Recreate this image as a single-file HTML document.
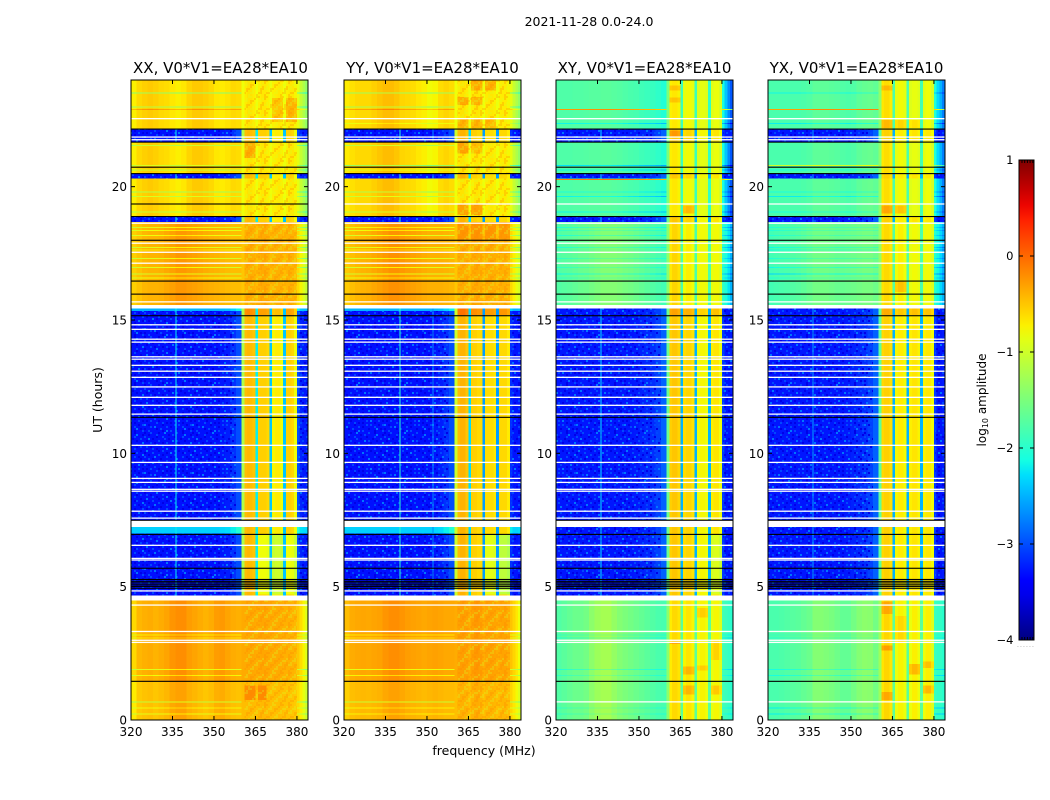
<!DOCTYPE html>
<html>
<head>
<meta charset="utf-8">
<title>2021-11-28 spectrogram</title>
<style>
html,body{margin:0;padding:0;background:#fff;}
svg{display:block;font-family:"DejaVu Sans","Liberation Sans",sans-serif;fill:#000;}
</style>
</head>
<body>
<svg id="chart" xmlns="http://www.w3.org/2000/svg" width="1050" height="800" viewBox="0 0 1050 800">
  <defs>
    <linearGradient id="jet-gradient" x1="0" y1="1" x2="0" y2="0"></linearGradient>
    <pattern id="speckle-pattern" patternUnits="userSpaceOnUse" x="0" y="0" width="48" height="48"></pattern>
    <pattern id="ripple-pattern" patternUnits="userSpaceOnUse" x="0" y="0" width="24" height="16"></pattern>
  </defs>
  <text x="589" y="26" font-size="12.5" text-anchor="middle">2021-11-28 0.0-24.0</text>
  <g id="panels"></g>
  <text x="220.5" y="73" font-size="15" text-anchor="middle">XX, V0*V1=EA28*EA10</text>
  <text x="432.5" y="73" font-size="15" text-anchor="middle">YY, V0*V1=EA28*EA10</text>
  <text x="644.5" y="73" font-size="15" text-anchor="middle">XY, V0*V1=EA28*EA10</text>
  <text x="856.5" y="73" font-size="15" text-anchor="middle">YX, V0*V1=EA28*EA10</text>
  <text x="484" y="755" font-size="12.5" text-anchor="middle">frequency (MHz)</text>
  <text x="0" y="0" font-size="12.5" text-anchor="middle" transform="translate(102 400) rotate(-90)">UT (hours)</text>
  <text x="0" y="0" font-size="12" text-anchor="middle" transform="translate(986 400) rotate(-90)">log<tspan font-size="8" dy="2">10</tspan><tspan dy="-2"> amplitude</tspan></text>
  <g id="colorbar">
    <rect x="1019" y="160" width="15" height="480" fill="url(#jet-gradient)"></rect>
  </g>
  <text x="1017" y="647" font-size="6" fill="#888" letter-spacing="1.1">......</text>
</svg>
<script>
// Axis domains and tick labels
const freqTicks = [320, 335, 350, 365, 380];
const hourTicks = [0, 5, 10, 15, 20];
const colorTicks = [1, 0, -1, -2, -3, -4];
// Frequency bin left edges (MHz)
const freqEdges = [320,322,324,326,328,330,332,334,336,338,340,342,344,346,348,350,352,354,356,358,360,361,362,363,364,365,366,367,368,369,370,371,372,373,374,375,376,377,378,379,380,381,382,383,384];

// log10 amplitude spectra, one value per frequency bin
const xxLow = [-.6,-.42,-.38,-.36,-.4,-.36,-.32,-.24,-.2,-.2,-.28,-.32,-.36,-.4,-.36,-.28,-.26,-.32,-.36,-.38,-.35,-.35,-.34,-.33,-.34,-.36,-.34,-.33,-.33,-.34,-.36,-.36,-.36,-.35,-.36,-.38,-.38,-.38,-.4,-.42,-.5,-.62,-.75,-.9];
const xxHigh = [-.72,-.6,-.55,-.52,-.55,-.6,-.62,-.68,-.72,-.68,-.58,-.52,-.52,-.55,-.6,-.68,-.7,-.66,-.6,-.62,-.8,-.7,-.65,-.65,-.7,-.8,-.72,-.68,-.68,-.72,-.8,-.72,-.7,-.68,-.72,-.8,-.72,-.68,-.68,-.75,-.85,-1.05,-1.2,-1.35];
const xxMid = [-.55,-.48,-.42,-.4,-.4,-.38,-.34,-.3,-.25,-.25,-.28,-.3,-.33,-.36,-.38,-.4,-.42,-.44,-.45,-.45,-.5,-.38,-.36,-.36,-.38,-.45,-.38,-.35,-.35,-.38,-.45,-.4,-.38,-.38,-.4,-.45,-.4,-.38,-.4,-.45,-.6,-.75,-.9,-1.05];
const xxOff = [-3.3,-3.3,-3.3,-3.3,-3.3,-3.3,-3.3,-3.3,-3.3,-3.3,-3.3,-3.3,-3.3,-3.3,-3.3,-3.3,-3.27,-3.24,-3.14,-3,-1.2,-.45,-.42,-.45,-.5,-2.2,-.55,-.55,-.55,-.6,-2.4,-.75,-.7,-.7,-.8,-2.4,-.55,-.55,-.6,-.8,-3,-3.2,-3.25,-3.25];
const yyLow = [-.45,-.36,-.34,-.33,-.34,-.32,-.3,-.24,-.2,-.2,-.24,-.28,-.3,-.32,-.34,-.32,-.3,-.32,-.34,-.34,-.36,-.3,-.28,-.28,-.3,-.36,-.3,-.26,-.26,-.3,-.36,-.32,-.3,-.3,-.32,-.36,-.34,-.32,-.32,-.36,-.48,-.58,-.68,-.8];
const yyHigh = [-.7,-.64,-.6,-.6,-.6,-.55,-.5,-.45,-.45,-.5,-.58,-.6,-.62,-.68,-.72,-.78,-.75,-.62,-.58,-.62,-.8,-.7,-.65,-.65,-.7,-.8,-.72,-.66,-.66,-.72,-.8,-.7,-.68,-.68,-.72,-.8,-.72,-.7,-.7,-.76,-.85,-1.05,-1.2,-1.35];
const yyMid = [-.52,-.46,-.42,-.4,-.38,-.34,-.3,-.26,-.22,-.22,-.25,-.28,-.3,-.33,-.36,-.38,-.38,-.38,-.4,-.42,-.5,-.38,-.36,-.36,-.38,-.45,-.38,-.35,-.35,-.38,-.45,-.38,-.36,-.36,-.38,-.45,-.4,-.38,-.38,-.42,-.6,-.72,-.85,-.95];
const yyOff = [-3.3,-3.3,-3.3,-3.3,-3.3,-3.3,-3.3,-3.3,-3.3,-3.3,-3.3,-3.3,-3.3,-3.3,-3.3,-3.3,-3.27,-3.24,-3.14,-3,-1,-.45,-.4,-.4,-.5,-2.3,-.55,-.55,-.6,-.6,-2.6,-.62,-.62,-.62,-.68,-2.6,-.6,-.6,-.6,-.7,-3.15,-3.28,-3.28,-3.25];
const xyLow = [-1.75,-1.7,-1.65,-1.6,-1.6,-1.55,-1.4,-1.3,-1.25,-1.25,-1.35,-1.45,-1.5,-1.55,-1.6,-1.65,-1.7,-1.75,-1.8,-1.82,-1.4,-.7,-.6,-.6,-.66,-1.7,-.75,-.66,-.66,-.75,-1.7,-.82,-.74,-.74,-.82,-1.7,-.85,-.76,-.76,-.9,-1.85,-1.9,-1.95,-2];
const xyHigh = [-1.77,-1.77,-1.77,-1.75,-1.75,-1.74,-1.72,-1.72,-1.7,-1.7,-1.72,-1.74,-1.77,-1.8,-1.82,-1.87,-1.9,-1.92,-1.97,-2.05,-1.5,-.72,-.68,-.68,-.74,-1.9,-.85,-.78,-.78,-.85,-1.9,-.92,-.85,-.85,-.92,-1.95,-.9,-.82,-.82,-.95,-2.1,-2.4,-2.7,-2.95];
const xyMid = [-1.75,-1.72,-1.7,-1.66,-1.62,-1.6,-1.55,-1.5,-1.45,-1.45,-1.45,-1.48,-1.52,-1.55,-1.6,-1.65,-1.7,-1.75,-1.8,-1.85,-1.4,-.68,-.58,-.58,-.65,-1.8,-.8,-.72,-.72,-.8,-1.8,-.85,-.78,-.78,-.85,-1.8,-.85,-.78,-.78,-.9,-1.95,-2.1,-2.25,-2.5];
const xyOff = [-3.27,-3.27,-3.27,-3.27,-3.27,-3.27,-3.27,-3.27,-3.27,-3.27,-3.27,-3.27,-3.27,-3.27,-3.25,-3.22,-3.19,-3.16,-3.06,-2.9,-1.6,-.55,-.5,-.5,-.58,-2.5,-.62,-.58,-.58,-.65,-2.5,-.8,-.76,-.76,-.82,-2.5,-.72,-.66,-.66,-.8,-3.1,-3.28,-3.28,-3.25];
const yxLow = [-1.8,-1.8,-1.78,-1.75,-1.72,-1.7,-1.65,-1.6,-1.45,-1.45,-1.48,-1.52,-1.58,-1.65,-1.65,-1.55,-1.45,-1.4,-1.42,-1.55,-1.3,-.66,-.58,-.58,-.66,-1.7,-.82,-.74,-.74,-.82,-1.7,-.82,-.72,-.72,-.82,-1.7,-.82,-.72,-.72,-.9,-1.9,-1.95,-1.95,-2];
const yxHigh = [-1.8,-1.8,-1.8,-1.8,-1.8,-1.8,-1.78,-1.75,-1.68,-1.68,-1.68,-1.7,-1.72,-1.76,-1.78,-1.76,-1.68,-1.64,-1.62,-1.66,-1.4,-.68,-.62,-.62,-.7,-1.8,-.85,-.78,-.78,-.85,-1.8,-.9,-.84,-.84,-.9,-1.85,-.88,-.8,-.8,-.95,-2.05,-2.3,-2.5,-2.75];
const yxMid = [-1.85,-1.82,-1.8,-1.78,-1.75,-1.72,-1.68,-1.62,-1.55,-1.55,-1.55,-1.58,-1.62,-1.62,-1.6,-1.58,-1.55,-1.52,-1.52,-1.58,-1.35,-.65,-.6,-.6,-.67,-1.75,-.8,-.72,-.72,-.8,-1.75,-.85,-.78,-.78,-.85,-1.8,-.85,-.78,-.78,-.92,-2,-2.15,-2.3,-2.5];
const yxOff = [-3.27,-3.27,-3.27,-3.27,-3.27,-3.27,-3.27,-3.27,-3.27,-3.27,-3.27,-3.27,-3.27,-3.27,-3.25,-3.22,-3.19,-3.16,-3.06,-2.9,-1.7,-.6,-.55,-.55,-.62,-2.5,-.76,-.7,-.7,-.78,-2.5,-.72,-.66,-.66,-.74,-2.5,-.74,-.68,-.68,-.78,-3.1,-3.28,-3.28,-3.25];

// Time blocks: start hour, end hour, receiver state, parallel offset, cross offset
const timeBlocks = [
  [22.18,24,'high',0,0],[21.67,22.18,'off',0,0],[20.49,21.67,'high',0,0],[20.30,20.49,'off',0,0],
  [18.88,20.30,'high',0,0],[18.67,18.88,'off',0,0],[15.56,18.67,'mid',0,0],[15.34,15.44,'off',.8,0],
  [7.49,15.34,'off',0,0],[6.99,7.23,'off',.95,0],[4.67,6.99,'off',0,0],[1.45,4.49,'low',0,0],[0,1.45,'low',-.1,0]
];
// Single-integration rows: hour, then offsets for XX, YY, XY, YX
const stripeRows = [
  [23.54,-.75,-.7,0,-.35],[23.0,-.6,-.6,0,0],[22.91,.3,.3,1.5,1.5],[22.38,0,-.2,-.4,-.4],[21.56,-.5,-.5,0,0],
  [20.82,-.4,-.7,-.5,.8],[20.64,-.5,-.3,-.4,-.3],[20.28,0,0,1.6,0],[19.81,-.6,-.6,-.3,-.3],[19.65,-.4,-.4,-.4,-.4],
  [19.06,-.5,-.5,-.4,-.3],[18.49,-.5,-.4,-.3,-.2],[18.37,-.4,-.4,-.2,-.2],[18.18,-.4,-.5,-.3,-.2],[17.73,-.5,-.5,-.3,-.3],
  [17.64,-.3,-.3,-.1,-.3],[17.32,-.5,-.5,-.2,-.2],[16.98,-.5,-.5,-.2,-.3],[16.74,-.55,-.55,-.4,-.5],[16.59,-.4,-.4,-.2,-.2],
  [3.21,-.35,-.35,-.2,-.1],[3.1,-.3,-.3,-.3,-.2],[1.91,-.5,-.5,-.3,-.3],[1.68,-.4,-.4,-.2,-.3],[0.70,-.7,-.7,0,-.2],
  [0.47,-.4,-.4,-.2,-.4],[0.25,-.5,-.4,-.2,-.4]
];
// Band patches: panel index, start hour, end hour, start MHz, end MHz, offset
const bandPatches = [
  [0,22.42,23.32,376,380,.28],[0,22.42,23.32,371,375,.2],[0,21.07,21.63,361,365,.3],[0,15.18,15.44,361,380,.25],
  [0,4.7,6.95,366,370,-.25],[0,4.7,6.95,371,375,-.3],[0,4.7,6.95,376,380,-.25],[0,0.75,1.3,361,369,.15],
  [1,23.06,23.36,361,365,.3],[1,23.6,23.98,366,370,.3],[1,23.06,23.36,366,370,.25],[1,23.6,23.98,371,375,.3],
  [1,22.2,22.55,361,375,.25],[1,21.25,21.67,361,365,.35],[1,21.25,21.67,366,370,.2],[1,18.93,19.35,361,370,.35],
  [1,17.99,18.67,361,380,.12],[1,15.18,15.44,361,380,.35],[1,4.7,6.95,371,375,-.25],[1,4.7,6.95,376,380,-.5],
  [2,23.6,23.8,361,365,.2],[2,23.15,23.35,361,365,.2],[2,21.85,22.1,361,365,.25],[2,19.0,19.3,366,370,.35],
  [2,15.18,15.44,361,380,.2],[2,4.7,6.95,376,380,-.25],[2,2.85,2.95,361,365,.3],[2,1.7,2.0,366,370,.25],
  [2,1.85,2.05,371,375,.2],[2,3.85,4.2,371,375,.2],[2,2.25,3.0,376,380,.2],[2,0.95,1.3,366,370,.25],[2,0.95,1.3,376,380,.25],
  [3,23.6,23.8,361,365,.2],[3,22.2,22.5,361,375,.2],[3,19.0,19.3,361,370,.3],[3,16.05,16.45,366,370,.25],
  [3,15.18,15.44,361,380,.2],[3,3.97,4.45,361,365,.25],[3,2.6,2.8,361,365,.3],[3,0.75,1.05,361,365,.25],
  [3,1.0,1.3,376,380,.3],[3,1.7,2.1,371,375,.3],[3,1.95,2.2,376,380,.25],[3,2.9,3.9,366,370,.15]
];
// Narrow interference: panel index, MHz, level
const narrowLines = [[0,336,-2.2],[1,340,-2],[1,352,-2.7],[2,336,-2.3],[3,336,-2.6]];
// Flagged integrations (hours)
const whiteHours = [22.55,21.86,21.76,18.63,17.88,17.54,17.13,15.68,14.82,14.65,14.28,14.17,13.62,13.53,13.30,13.08,12.85,12.49,12.10,11.80,11.47,10.30,9.66,9.06,8.91,8.65,8.58,7.83,7.57,6.55,6.06,6.0,4.84,4.31,3.32,2.99,2.91];
const blackHours = [22.16,21.67,20.73,20.49,18.88,17.99,16.46,15.97,15.16,11.35,7.49,6.96,5.69,5.27,5.2,5.14,5.07,5.01,4.94,1.45];
const xxOnlyBlackHours = [19.35];
const otherWhiteHours = [19.35];
const crossWhiteHours = [0.68];
// Texture tiles: '#' and '+' brighter channels, 'o' darker channels
const speckleRows = [
  'o..#...o..+.....#..o....',
  '..o...#.....o.#.....+..o',
  '#.....o..#.....o...#....',
  '..+.o.....#.o.....o...#.',
  '.o.....#......+.#...o...',
  '...#.o...o.#.....o.....+',
  'o.....+.....o...#...#...',
  '.#.o.....#.....o....o.#.',
  '....#.o....+.o.....#....',
  '.+.....o.#.....#.o....o.',
  'o...#......o.+.....o#...',
  '..o....#.o.....#.......+',
  '#....+.....#.o.....#.o..',
  '..#.o...o.......+.....o.',
  '.o.....#...#.o.....o...#',
  '....+.o......#..o.#.....',
  '#.o.....#.o.....#....+.o',
  '.....#.....+.o.....o....',
  '.o.#...o.......#.+...#.o',
  '......#..#.o.o.....o....',
  '+.o......o.....#.#...o.#',
  '...#.+.....#.o.....#....',
  'o.....o.#.......o...+.o.',
  '..#......o.+.#.....o...#'
];
const rippleRows = [
  'rr..yy..rr..',
  'r..y...r...y',
  '..yy.rr..yy.',
  '.y...r..y..r',
  'yy.rr..yy.rr',
  '...r..y...r.',
  '.rr..yy..rr.',
  'r...y...r...'
];

const panelSpectra = [
  {low:xxLow,mid:xxMid,high:xxHigh,off:xxOff},
  {low:yyLow,mid:yyMid,high:yyHigh,off:yyOff},
  {low:xyLow,mid:xyMid,high:xyHigh,off:xyOff},
  {low:yxLow,mid:yxMid,high:yxHigh,off:yxOff}
];
const panelNames = ['xx','yy','xy','yx'];
const panelLefts = [131,344,556,768];
const panelWidth = 177, panelTop = 80, panelBottom = 720;
const SVGNS = 'http://www.w3.org/2000/svg';

function scaleX(left, mhz){ return left + (mhz - 320) / 64 * panelWidth; }
function scaleY(hour){ return panelBottom - hour / 24 * (panelBottom - panelTop); }
function colorY(level){ return 160 + (1 - level) / 5 * 480; }

const jetR = [[0,0],[.35,0],[.66,1],[.89,1],[1,.5]];
const jetG = [[0,0],[.125,0],[.375,1],[.64,1],[.91,0],[1,0]];
const jetB = [[0,.5],[.11,1],[.34,1],[.65,0],[1,0]];
function channel(anchors, t){
  for(let i=1;i<anchors.length;i++){
    if(t<=anchors[i][0]){
      const a=anchors[i-1], b=anchors[i];
      return a[1]+(b[1]-a[1])*(t-a[0])/(b[0]-a[0]);
    }
  }
  return anchors[anchors.length-1][1];
}
function jet(level){
  const t=Math.max(0,Math.min(1,(level+4)/5));
  return 'rgb('+Math.round(255*channel(jetR,t))+','+Math.round(255*channel(jetG,t))+','+Math.round(255*channel(jetB,t))+')';
}

const gradient=document.getElementById('jet-gradient');
for(let i=0;i<=32;i++){
  const stop=document.createElementNS(SVGNS,'stop');
  stop.setAttribute('offset',(i/32));
  stop.setAttribute('stop-color',jet(-4+5*i/32));
  gradient.appendChild(stop);
}

// texture tiles
function tile(patternId, rows, colors, opacity){
  const pattern=document.getElementById(patternId);
  rows.forEach(function(row,r){
    row.split('').forEach(function(ch,c){
      if(!colors[ch]) return;
      const t=document.createElementNS(SVGNS,'rect');
      t.setAttribute('x',c*2);t.setAttribute('y',r*2);t.setAttribute('width',2);t.setAttribute('height',2);
      t.setAttribute('fill',colors[ch]);t.setAttribute('fill-opacity',opacity);
      pattern.appendChild(t);
    });
  });
}
tile('speckle-pattern',speckleRows,{'#':jet(-3.02),'+':jet(-2.8),'o':jet(-3.55)},1);
tile('ripple-pattern',rippleRows,{'r':jet(-.15),'y':jet(-.95)},.28);

function line(parent,x1,y1,x2,y2,name){
  const el=document.createElementNS(SVGNS,'line');
  
  
  el.setAttribute('x1',x1);el.setAttribute('y1',y1);el.setAttribute('x2',x2);el.setAttribute('y2',y2);
  el.setAttribute('stroke','#000');el.setAttribute('stroke-width','1');
  parent.appendChild(el);
}
function label(parent,x,y,str,anchor,size,name){
  const el=document.createElementNS(SVGNS,'text');
  
  
  el.setAttribute('x',x);el.setAttribute('y',y);el.setAttribute('text-anchor',anchor);el.setAttribute('font-size',size);
  el.textContent=str;
  parent.appendChild(el);
}
function cell(parent,x,y,w,h,fill,crisp){
  const el=document.createElementNS(SVGNS,'rect');
  
  
  el.setAttribute('x',x.toFixed(2));el.setAttribute('y',y.toFixed(2));el.setAttribute('width',w.toFixed(2));el.setAttribute('height',h.toFixed(2));
  el.setAttribute('fill',fill);
  if(crisp) el.setAttribute('shape-rendering','crispEdges');
  parent.appendChild(el);
}
function textureRect(parent,x,y,w,h,patternId){
  const el=document.createElementNS(SVGNS,'rect');
  
  
  el.setAttribute('x',x.toFixed(2));el.setAttribute('y',y.toFixed(2));el.setAttribute('width',w.toFixed(2));el.setAttribute('height',h.toFixed(2));
  el.setAttribute('fill','url(#'+patternId+')');
  el.setAttribute('shape-rendering','crispEdges');
  parent.appendChild(el);
}
function inBand(i){ return freqEdges[i]>=360 && freqEdges[i]<380; }
function blockAt(hour){
  return timeBlocks.find(function(b){return hour>=b[0]&&hour<=b[1];});
}
function flagRow(parent,left,hour,color){
  const el=document.createElementNS(SVGNS,'rect');
  
  
  const thick=color==='#fff'?1.3:1.1;
  el.setAttribute('x',left);el.setAttribute('y',(scaleY(hour)-thick/2).toFixed(2));
  el.setAttribute('width',panelWidth);el.setAttribute('height',thick);
  el.setAttribute('fill',color);
  parent.appendChild(el);
}

const panels=document.getElementById('panels');
panelNames.forEach(function(name,p){
  const left=panelLefts[p], spectra=panelSpectra[p], crossPanel=p>=2;
  const g=document.createElementNS(SVGNS,'g');
  
  
  panels.appendChild(g);
  const heat=document.createElementNS(SVGNS,'g');
  
  
  g.appendChild(heat);
  // time blocks
  timeBlocks.forEach(function(b){
    const values=spectra[b[2]], offset=crossPanel?b[4]:b[3];
    for(let i=0;i<values.length;i++){
      const applied=(b[2]==='off'&&inBand(i))?0:offset;
      const x0=scaleX(left,freqEdges[i]), x1=scaleX(left,freqEdges[i+1]);
      const y0=scaleY(b[1]), y1=scaleY(b[0]);
      cell(heat,x0,y0,x1-x0,y1-y0,jet(values[i]+applied),true);
    }
  });
  // band patches
  bandPatches.filter(function(q){return q[0]===p;}).forEach(function(q){
    const b=blockAt((q[1]+q[2])/2); if(!b) return;
    const values=spectra[b[2]];
    for(let i=0;i<values.length;i++){
      const f=freqEdges[i];
      if(f<q[3]||f>=q[4]) continue;
      if(f===365||f===370||f===375) continue;
      const x0=scaleX(left,f), x1=scaleX(left,freqEdges[i+1]);
      cell(heat,x0,scaleY(q[2]),x1-x0,scaleY(q[1])-scaleY(q[2]),jet(values[i]+q[5]),true);
    }
  });
  // receiver noise texture and parallel-hand fringe texture
  timeBlocks.forEach(function(b){
    const y0=scaleY(b[1]), h=scaleY(b[0])-y0;
    const offset=crossPanel?b[4]:b[3];
    if(b[2]==='off'&&offset===0){
      textureRect(heat,scaleX(left,320),y0,scaleX(left,358)-scaleX(left,320),h,'speckle-pattern');
      textureRect(heat,scaleX(left,380.5),y0,scaleX(left,384)-scaleX(left,380.5),h,'speckle-pattern');
    }
    if(b[2]!=='off'&&!crossPanel){
      textureRect(heat,scaleX(left,361),y0,scaleX(left,380)-scaleX(left,361),h,'ripple-pattern');
    }
  });
  // narrow interference lines in quiet blocks
  narrowLines.filter(function(n){return n[0]===p;}).forEach(function(n){
    timeBlocks.filter(function(b){return b[2]==='off';}).forEach(function(b){
      cell(heat,scaleX(left,n[1]),scaleY(b[1]),1,scaleY(b[0])-scaleY(b[1]),jet(n[2]),true);
    });
  });
  // single integration rows, out of band
  stripeRows.forEach(function(s){
    const b=blockAt(s[0]); if(!b) return;
    const values=spectra[b[2]], d=s[p+1];
    if(!d) return;
    for(let i=0;i<values.length;i++){
      if(inBand(i)) continue;
      const x0=scaleX(left,freqEdges[i]), x1=scaleX(left,freqEdges[i+1]);
      cell(heat,x0,scaleY(s[0]),x1-x0,1,jet(values[i]+d),true);
    }
  });
  // flags
  whiteHours.forEach(function(h){flagRow(g,left,h,'#fff');});
  if(crossPanel) crossWhiteHours.forEach(function(h){flagRow(g,left,h,'#fff');});
  if(p===0) xxOnlyBlackHours.forEach(function(h){flagRow(g,left,h,'#000');});
  else otherWhiteHours.forEach(function(h){flagRow(g,left,h,'#fff');});
  blackHours.forEach(function(h){flagRow(g,left,h,'#000');});
  // frame
  const frame=document.createElementNS(SVGNS,'rect');
  
  
  frame.setAttribute('x',left);frame.setAttribute('y',panelTop);frame.setAttribute('width',panelWidth);frame.setAttribute('height',panelBottom-panelTop);
  frame.setAttribute('fill','none');frame.setAttribute('stroke','#000');frame.setAttribute('stroke-width','1');
  g.appendChild(frame);
  // ticks and labels
  freqTicks.forEach(function(f){
    const x=scaleX(left,f);
    line(g,x,panelBottom,x,panelBottom-4,'x-tick');
    line(g,x,panelTop,x,panelTop+4,'x-tick-top');
    label(g,x,736,String(f),'middle',12,'x-tick-label');
  });
  hourTicks.forEach(function(h){
    const y=scaleY(h);
    line(g,left,y,left+4,y,'y-tick');
    line(g,left+panelWidth,y,left+panelWidth-4,y,'y-tick-right');
    label(g,left-4,y+4.5,String(h),'end',12,'y-tick-label');
  });
});

// colorbar frame and ticks
const bar=document.getElementById('colorbar');
const barFrame=document.createElementNS(SVGNS,'rect');


barFrame.setAttribute('x','1019');barFrame.setAttribute('y','160');barFrame.setAttribute('width','15');barFrame.setAttribute('height','480');
barFrame.setAttribute('fill','none');barFrame.setAttribute('stroke','#000');barFrame.setAttribute('stroke-width','1');
bar.appendChild(barFrame);
colorTicks.forEach(function(level){
  const y=colorY(level);
  if(level<1&&level>-4){
    line(bar,1019,y,1023,y,'colorbar-tick');
    line(bar,1034,y,1030,y,'colorbar-tick-right');
  }
  const text=level<0?'\u2212'+Math.abs(level):String(level);
  label(bar,1013.5,y+4,text,'end',11.5,'colorbar-tick-label');
});
for(let i=0;i<5;i++){
  const x=1022+2.7*i;
  line(bar,x,160,x,163,'colorbar-top-tick');
  line(bar,x,640,x,637,'colorbar-bottom-tick');
}
</script>
</body>
</html>
